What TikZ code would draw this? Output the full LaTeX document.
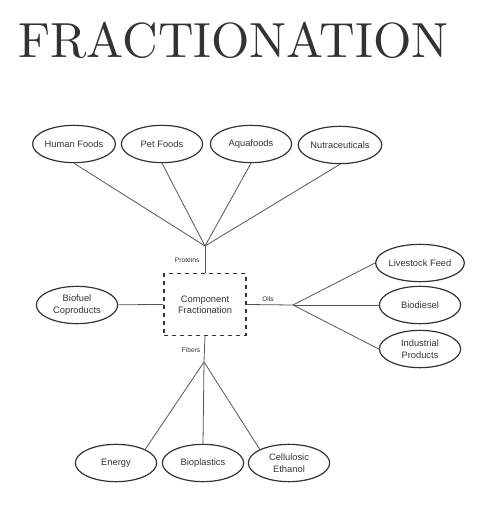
\documentclass[tikz,border=0pt]{standalone}
\usepackage{fontspec}
\newfontfamily\labelfont{Liberation Sans}
\newfontfamily\titlefont{lmroman10-regular.otf}
\usetikzlibrary{shapes.geometric}
\definecolor{LineClr}{HTML}{555555}
\definecolor{TextClr}{HTML}{333333}

\begin{document}
\begin{tikzpicture}[x=0.75pt,y=-0.75pt,
  useoval/.style={ellipse,draw=TextClr,line width=0.9pt,minimum width=61pt,
    minimum height=28pt,inner sep=0pt,align=center,text=TextClr,
    font=\labelfont\fontsize{7}{8.5}\selectfont},
  stream/.style={text=TextClr,font=\labelfont\fontsize{5}{6}\selectfont,inner sep=1pt},
  branch/.style={draw=LineClr,line width=0.6pt}]
\useasboundingbox (0,0) rectangle (476,524);

\node[text=TextClr,font=\titlefont\fontsize{37}{40}\selectfont] (title) at (233.5,40) {FRACTIONATION};

% centre box
\node[draw=TextClr,dashed,line width=0.8pt,minimum width=61.5pt,minimum height=46pt,
  align=center,text=TextClr,font=\labelfont\fontsize{7}{8.5}\selectfont]
  (cf) at (205,304.5) {Component\\Fractionation};

% proteins
\node[useoval] (hf) at (74,144) {Human Foods};
\node[useoval] (pf) at (162,144) {Pet Foods};
\node[useoval] (af) at (251,144) {Aquafoods};
\node[useoval] (nc) at (340,145) {Nutraceuticals};
\coordinate (pj) at (205,246);
\node[stream,anchor=east] (prot) at (201,260) {Proteins};
\foreach \n in {hf,pf,af,nc}
  \draw[branch] (pj) -- (\n.south);
\draw[branch] (pj) -- (cf.north);

% biofuel
\node[useoval] (bc) at (77,305) {Biofuel\\Coproducts};
\draw[branch] (bc) -- (cf.west);

% oils
\node[useoval] (lf) at (420,263) {Livestock Feed};
\node[useoval] (bd) at (420,305) {Biodiesel};
\node[useoval] (ip) at (420,349) {Industrial\\Products};
\coordinate (oj) at (293,305);
\node[stream,anchor=south] (oil) at (268,303) {Oils};
\draw[branch] (cf.east) -- (oj);
\foreach \n in {lf,bd,ip}
  \draw[branch] (oj) -- (\n.west);

% fibers
\node[useoval] (en) at (116,463) {Energy};
\node[useoval] (bp) at (203,463) {Bioplastics};
\node[useoval] (ce) at (289,463) {Cellulosic\\Ethanol};
\coordinate (fj) at (204,362);
\node[stream] (fib) at (191,350) {Fibers};
\draw[branch] (cf.south) -- (fj);
\draw[branch] (fj) -- (en.25);
\draw[branch] (fj) -- (bp.north);
\draw[branch] (fj) -- (ce.155);

\end{tikzpicture}
\end{document}
